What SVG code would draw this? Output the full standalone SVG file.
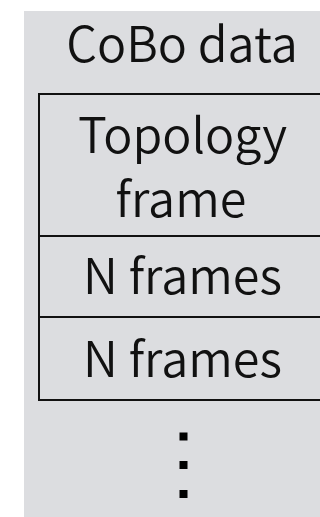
<svg xmlns="http://www.w3.org/2000/svg" width="320" height="517" viewBox="0 0 320 517">
  <style>
    .panel { fill: #dcdde0; }
    .cell { fill: none; stroke: #111; stroke-width: 2; }
    .lbl { font-family: "Noto Sans CJK KR", "Noto Sans", sans-serif; font-size: 48.5px; font-weight: 350; fill: #111; text-anchor: middle; }
    .dot { fill: #000; }
  </style>
  <rect x="0" y="0" width="320" height="517" fill="#fff"/>
  <g id="cobo-data">
    <rect class="panel" x="24" y="11" width="320" height="506"/>
    <text class="lbl" x="182" y="62">CoBo data</text>
  </g>
  <g id="topology-frame">
    <rect class="cell" x="39" y="94" width="320" height="142"/>
    <text class="lbl" x="182.5" y="153">Topology</text>
    <text class="lbl" x="181" y="217">frame</text>
  </g>
  <g id="n-frames-1">
    <rect class="cell" x="39" y="236" width="320" height="81"/>
    <text class="lbl" x="182.5" y="294">N frames</text>
  </g>
  <g id="n-frames-2">
    <rect class="cell" x="39" y="317" width="320" height="83"/>
    <text class="lbl" x="182.5" y="377">N frames</text>
  </g>
  <g id="ellipsis">
    <rect class="dot" x="179.5" y="432.5" width="8" height="8"/>
    <rect class="dot" x="179.5" y="461" width="8" height="8"/>
    <rect class="dot" x="179.5" y="490" width="8" height="8"/>
  </g>
</svg>
